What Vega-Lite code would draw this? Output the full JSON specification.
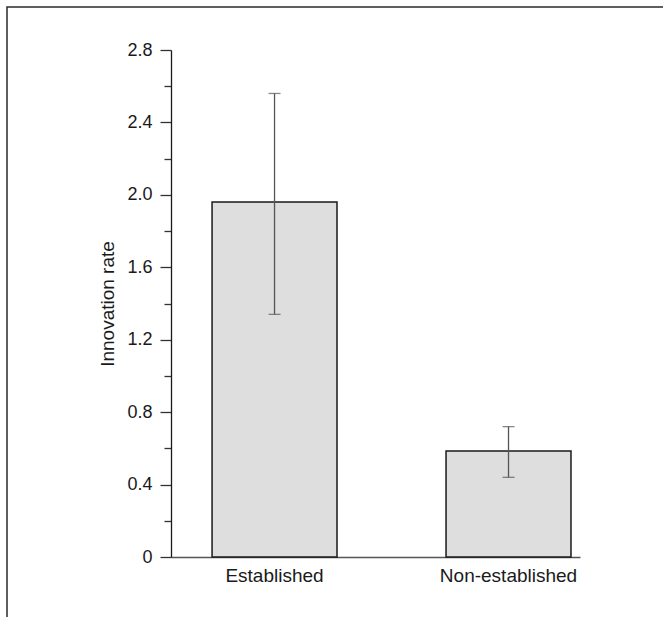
{
  "$schema": "https://vega.github.io/schema/vega-lite/v6.json",
  "autosize": "none",
  "width": 657,
  "height": 611,
  "padding": {"left": 7, "top": 7, "right": -1, "bottom": -1},
  "background": "white",
  "config": {
    "view": {"stroke": "#2b2b2b", "strokeWidth": 1.5},
    "font": "Liberation Sans"
  },
  "data": {
    "values": [
      {"group": "Established", "rate": 1.96, "lower": 1.34, "upper": 2.56},
      {"group": "Non-established", "rate": 0.585, "lower": 0.44, "upper": 0.72}
    ]
  },
  "encoding": {
    "x": {
      "field": "group",
      "type": "nominal",
      "sort": null,
      "scale": {"range": [164, 573], "paddingInner": 0.466, "paddingOuter": 0.107, "align": 0.82},
      "axis": {
        "title": null,
        "orient": "bottom",
        "offset": -61,
        "ticks": false,
        "tickSize": 0,
        "labelPadding": 9,
        "labelAngle": 0,
        "labelFont": "Liberation Sans",
        "labelFontSize": 19,
        "labelColor": "#1a1a1a",
        "domainColor": "#555555",
        "domainWidth": 1.5,
        "grid": false
      }
    }
  },
  "layer": [
    {
      "mark": {"type": "bar", "fill": "#dedede", "stroke": "#1a1a1a", "strokeWidth": 1.5},
      "encoding": {
        "y": {
          "field": "rate",
          "type": "quantitative",
          "scale": {"domain": [0, 2.8], "range": [550, 43], "nice": false, "zero": true},
          "axis": {
            "title": "Innovation rate",
            "orient": "left",
            "offset": -164,
            "values": [0, 0.2, 0.4, 0.6, 0.8, 1.0, 1.2, 1.4, 1.6, 1.8, 2.0, 2.2, 2.4, 2.6, 2.8],
            "labelExpr": "round(datum.value*5) % 2 == 0 ? (datum.value == 0 ? '0' : format(datum.value, '.1f')) : ''",
            "tickSize": {"condition": {"test": "round(datum.value*5) % 2 == 0", "value": 11}, "value": 7},
            "tickColor": "#333333",
            "tickWidth": 1.3,
            "labelPadding": 8,
            "labelFont": "Liberation Sans",
            "labelFontSize": 18,
            "labelColor": "#1a1a1a",
            "domainColor": "#1a1a1a",
            "domainWidth": 1.3,
            "grid": false,
            "titleFont": "Liberation Sans",
            "titleFontSize": 19,
            "titleFontWeight": "normal",
            "titleColor": "#1a1a1a",
            "titlePadding": 9
          }
        }
      }
    },
    {
      "mark": {"type": "rule", "stroke": "#555555", "strokeWidth": 1.3},
      "encoding": {
        "y": {"field": "lower", "type": "quantitative"},
        "y2": {"field": "upper"}
      }
    },
    {
      "mark": {"type": "tick", "color": "#555555", "thickness": 1.3, "size": 12},
      "encoding": {"y": {"field": "upper", "type": "quantitative"}}
    },
    {
      "mark": {"type": "tick", "color": "#555555", "thickness": 1.3, "size": 12},
      "encoding": {"y": {"field": "lower", "type": "quantitative"}}
    }
  ]
}
